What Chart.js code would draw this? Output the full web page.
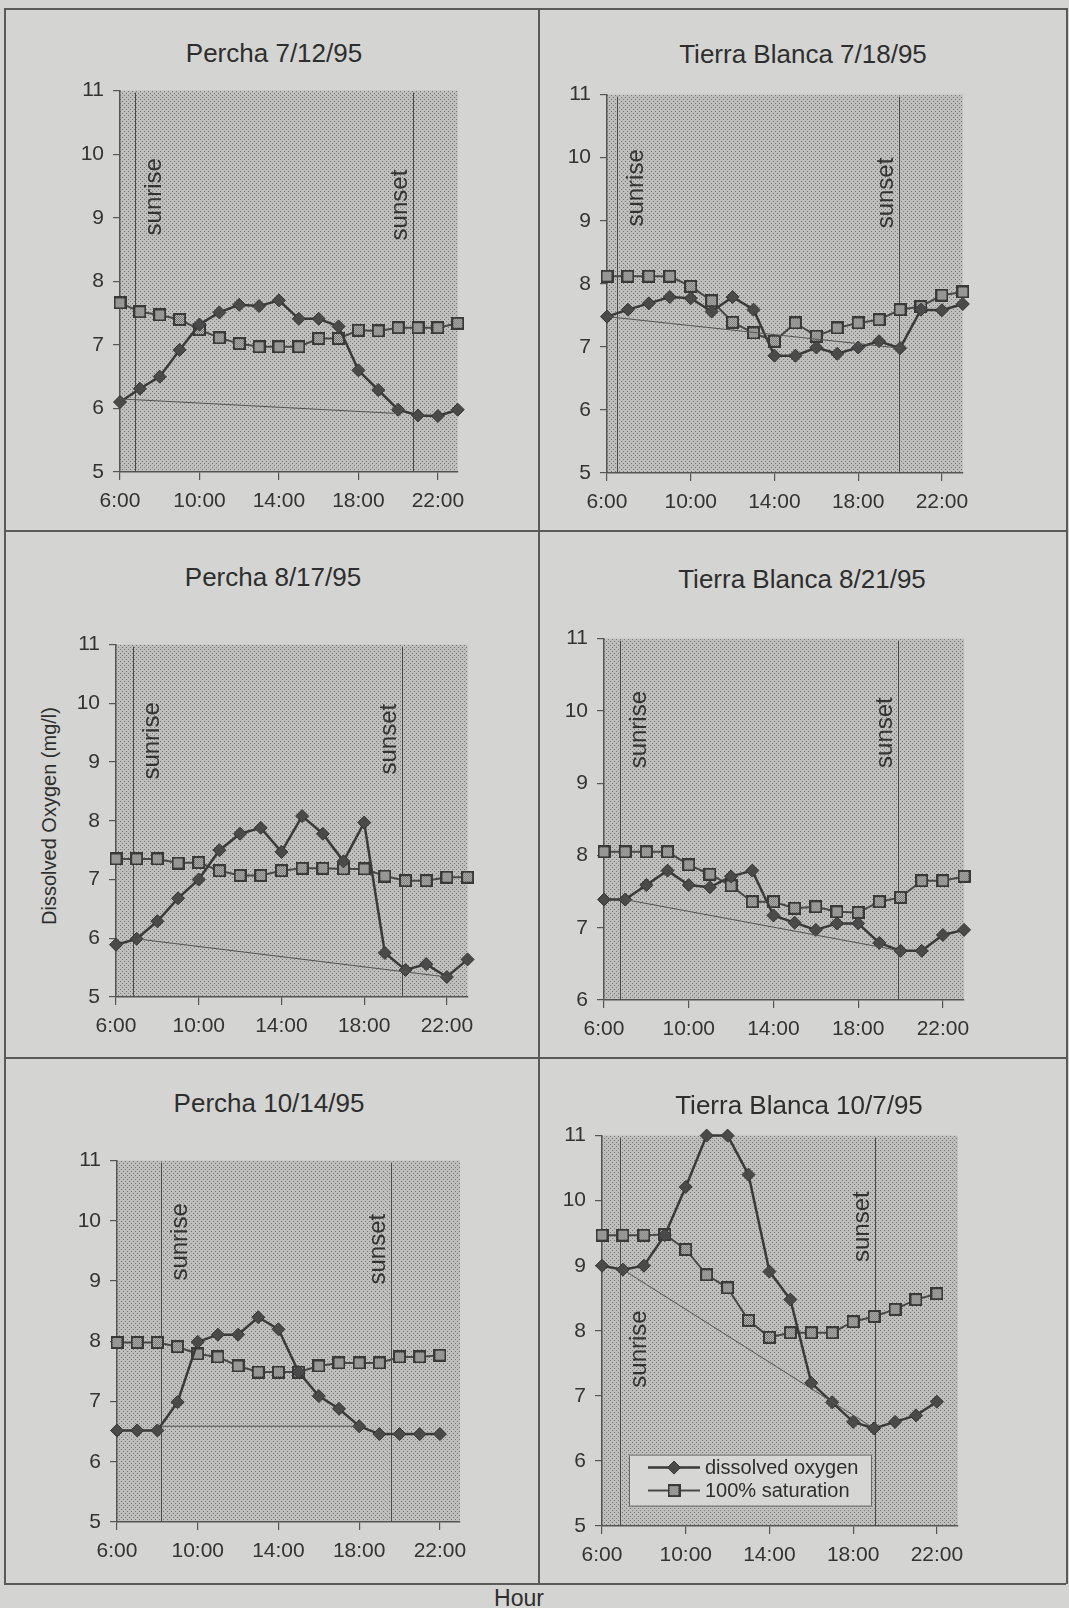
<!DOCTYPE html>
<html>
<head>
<meta charset="utf-8">
<script src="https://cdn.jsdelivr.net/npm/chart.js@4.4.0/dist/chart.umd.min.js"></script>
<style>
  html, body { margin: 0; padding: 0; background: #d4d4d2; }
  #page { position: relative; width: 1069px; height: 1608px; overflow: hidden;
          font-family: 'Liberation Sans', Arial, sans-serif; color: #2e2e2e; }
  #page canvas { position: absolute; }
  .rule { position: absolute; background: #5a5a5a; }
  .lbl { position: absolute; white-space: nowrap; line-height: 1; transform: translate(-50%, -50%); }
  .ttl { font-size: 26px; }
</style>
</head>
<body>
<div id="page">
  <div class="rule" style="left:4px;top:8px;width:1062px;height:1.5px"></div>
  <div class="rule" style="left:4px;top:530px;width:1062px;height:1.5px"></div>
  <div class="rule" style="left:4px;top:1057px;width:1062px;height:1.5px"></div>
  <div class="rule" style="left:4px;top:1583px;width:1062px;height:1.5px"></div>
  <div class="rule" style="left:4px;top:8px;width:1.5px;height:1576px"></div>
  <div class="rule" style="left:538px;top:8px;width:1.5px;height:1576px"></div>
  <div class="rule" style="left:1066px;top:8px;width:1.5px;height:1576px"></div>

  <div class="lbl" style="left:49px;top:816px;font-size:20px;transform:translate(-50%,-50%) rotate(-90deg)">Dissolved Oxygen (mg/l)</div>
  <div class="lbl" style="left:519px;top:1598px;font-size:23px">Hour</div>
</div>
<script>
Chart.defaults.font.family = "'Liberation Sans', Arial, sans-serif";
Chart.defaults.color = '#333';
Chart.defaults.animation = false;

// hours of the day sampled, and the tick hours shown
const hours = [6, 7, 8, 9, 10, 11, 12, 13, 14, 15, 16, 17, 18, 19, 20, 21, 22, 23];
const hourTicks = [6, 10, 14, 18, 22];

const titles = ['Percha 7/12/95', 'Tierra Blanca 7/18/95', 'Percha 8/17/95',
                'Tierra Blanca 8/21/95', 'Percha 10/14/95', 'Tierra Blanca 10/7/95'];
const yMin = [5, 5, 5, 6, 5, 5];
const yMax = 11;

// dissolved oxygen (mg/l) and 100% saturation, one value per hour
const percha0712DO  = [6.10, 6.31, 6.50, 6.92, 7.32, 7.51, 7.63, 7.61, 7.70, 7.41, 7.41, 7.29, 6.60, 6.29, 5.98, 5.89, 5.88, 5.98];
const percha0712Sat = [7.66, 7.52, 7.47, 7.40, 7.24, 7.11, 7.02, 6.97, 6.97, 6.97, 7.10, 7.10, 7.23, 7.22, 7.27, 7.27, 7.27, 7.34];
const tierra0718DO  = [7.48, 7.59, 7.69, 7.79, 7.77, 7.56, 7.79, 7.59, 6.86, 6.86, 6.99, 6.89, 6.99, 7.09, 6.98, 7.59, 7.58, 7.68];
const tierra0718Sat = [8.12, 8.12, 8.12, 8.12, 7.96, 7.73, 7.39, 7.22, 7.09, 7.38, 7.17, 7.30, 7.38, 7.43, 7.59, 7.64, 7.82, 7.87];
const percha0817DO  = [5.89, 5.99, 6.29, 6.68, 7.00, 7.50, 7.78, 7.88, 7.47, 8.08, 7.78, 7.31, 7.97, 5.75, 5.46, 5.56, 5.34, 5.64];
const percha0817Sat = [7.35, 7.35, 7.35, 7.28, 7.29, 7.15, 7.07, 7.07, 7.15, 7.19, 7.19, 7.18, 7.18, 7.06, 6.98, 6.98, 7.04, 7.04];
const tierra0821DO  = [7.39, 7.39, 7.59, 7.79, 7.59, 7.56, 7.71, 7.79, 7.17, 7.07, 6.97, 7.06, 7.06, 6.79, 6.68, 6.68, 6.90, 6.97];
const tierra0821Sat = [8.05, 8.05, 8.05, 8.05, 7.87, 7.74, 7.58, 7.36, 7.36, 7.27, 7.29, 7.22, 7.21, 7.36, 7.42, 7.65, 7.65, 7.71];
const percha1014DO  = [6.52, 6.52, 6.52, 6.99, 7.99, 8.11, 8.11, 8.40, 8.20, 7.49, 7.09, 6.88, 6.59, 6.46, 6.46, 6.46, 6.46];
const percha1014Sat = [7.98, 7.98, 7.98, 7.91, 7.79, 7.74, 7.59, 7.49, 7.49, 7.49, 7.59, 7.64, 7.64, 7.64, 7.74, 7.74, 7.77];
const tierra1007DO  = [9.00, 8.94, 9.00, 9.47, 10.21, 11.00, 11.00, 10.40, 8.91, 8.48, 7.20, 6.90, 6.60, 6.50, 6.60, 6.70, 6.91];
const tierra1007Sat = [9.47, 9.47, 9.47, 9.48, 9.25, 8.86, 8.66, 8.16, 7.90, 7.97, 7.97, 7.97, 8.14, 8.22, 8.33, 8.48, 8.57];

const oxygen = [percha0712DO, tierra0718DO, percha0817DO, tierra0821DO, percha1014DO, tierra1007DO];
const saturation = [percha0712Sat, tierra0718Sat, percha0817Sat, tierra0821Sat, percha1014Sat, tierra1007Sat];

// sunrise / sunset (hour) and the thin night-respiration line [hour, mg/l]
const sunrise = [6.75, 6.48, 6.8, 6.75, 8.2, 6.84];
const sunset = [20.75, 19.93, 19.85, 19.88, 19.6, 19.06];
const trendFrom = [[6, 6.15], [6, 7.48], [7, 5.99], [7, 7.39], [8.2, 6.59], [7, 8.94]];
const trendTo = [[20, 5.92], [20, 6.98], [22, 5.34], [20, 6.68], [18, 6.59], [19, 6.50]];

// layout: plot areas on the page, label heights, title centres
const areas = [
  { l: 120, t: 83, r: 460, b: 472 }, { l: 607, t: 87, r: 964, b: 473 },
  { l: 116, t: 637, r: 469, b: 997 }, { l: 604, t: 631, r: 965, b: 1000 },
  { l: 117, t: 1153, r: 462, b: 1522 }, { l: 602, t: 1128, r: 959, b: 1526 }
];
const riseLabelY = [9.33, 9.52, 9.36, 9.74, 9.65, 7.72];
const setLabelY = [9.2, 9.44, 9.39, 9.7, 9.53, 9.6];
const titlePos = [[274, 53], [803, 54], [273, 577], [802, 579], [269, 1103], [799, 1105]];

const YW = 70, XH = 50, PAD = 14;
const page = document.getElementById('page');

const tile = document.createElement('canvas');
tile.width = 4; tile.height = 4;
(function () {
  const g = tile.getContext('2d');
  g.fillStyle = '#bebebc'; g.fillRect(0, 0, 4, 4);
  g.fillStyle = '#787876'; g.fillRect(0, 0, 1, 1); g.fillRect(2, 2, 1, 1);
})();

const squareMark = document.createElement('canvas');
squareMark.width = 13; squareMark.height = 13;
(function () {
  const g = squareMark.getContext('2d');
  g.fillStyle = '#3a3a3a'; g.fillRect(0, 0, 13, 13);
  g.fillStyle = '#c4c4c2'; g.fillRect(2, 2, 9, 9);
  g.fillStyle = '#6a6a68';
  for (let y = 2; y < 11; y++) for (let x = 2; x < 11; x++) if ((x + y) % 2 === 0) g.fillRect(x, y, 1, 1);
})();

const backdrop = {
  id: 'backdrop',
  beforeDraw(chart) {
    const { ctx, chartArea: c } = chart;
    ctx.save();
    ctx.fillStyle = ctx.createPattern(tile, 'repeat');
    ctx.fillRect(c.left, c.top, c.width, c.height);
    ctx.restore();
  }
};

function vText(ctx, text, bx, cy) {
  ctx.save();
  ctx.translate(bx, cy);
  ctx.rotate(-Math.PI / 2);
  ctx.fillText(text, 0, 0);
  ctx.restore();
}

const sunMarks = {
  id: 'sunMarks',
  beforeDatasetsDraw(chart, args, opts) {
    const { ctx, chartArea: c, scales: { x, y } } = chart;
    ctx.save();
    ctx.strokeStyle = '#4a4a4a';
    ctx.lineWidth = 1;
    const rx = Math.round(x.getPixelForValue(opts.rise)) + 0.5;
    const sx = Math.round(x.getPixelForValue(opts.set)) + 0.5;
    [rx, sx].forEach(px => {
      ctx.beginPath(); ctx.moveTo(px, c.top + 2); ctx.lineTo(px, c.bottom); ctx.stroke();
    });
    ctx.fillStyle = '#333';
    ctx.font = "24px 'Liberation Sans', Arial, sans-serif";
    ctx.textAlign = 'center';
    ctx.textBaseline = 'alphabetic';
    vText(ctx, 'sunrise', rx + 25, y.getPixelForValue(opts.riseY));
    vText(ctx, 'sunset', sx - 7, y.getPixelForValue(opts.setY));
    ctx.restore();
  }
};

const keyBox = {
  id: 'keyBox',
  afterDatasetsDraw(chart, args, opts) {
    if (!opts.show) return;
    const { ctx, chartArea: c } = chart;
    const bx = c.left + 27, by = c.top + 319, bw = 242, bh = 51;
    ctx.save();
    ctx.fillStyle = '#d6d6d4';
    ctx.fillRect(bx, by, bw, bh);
    ctx.strokeStyle = '#6a6a6a';
    ctx.lineWidth = 1;
    ctx.strokeRect(bx + 0.5, by + 0.5, bw, bh);
    const sets = chart.data.datasets.filter(d => d.label !== 'trend');
    sets.forEach((d, k) => {
      const ly = by + 13 + k * 23;
      ctx.strokeStyle = d.borderColor;
      ctx.lineWidth = d.borderWidth;
      ctx.beginPath(); ctx.moveTo(bx + 19, ly); ctx.lineTo(bx + 71, ly); ctx.stroke();
      const mx = bx + 45;
      if (d.pointStyle === 'rectRot') {
        ctx.fillStyle = d.pointBackgroundColor;
        ctx.strokeStyle = d.pointBorderColor;
        ctx.lineWidth = 1;
        ctx.beginPath();
        ctx.moveTo(mx - 6.5, ly); ctx.lineTo(mx, ly - 6.5); ctx.lineTo(mx + 6.5, ly); ctx.lineTo(mx, ly + 6.5);
        ctx.closePath(); ctx.fill(); ctx.stroke();
      } else {
        ctx.drawImage(d.pointStyle, mx - 6.5, ly - 6.5);
      }
      ctx.fillStyle = '#2e2e2e';
      ctx.font = "20px 'Liberation Sans', Arial, sans-serif";
      ctx.textAlign = 'left';
      ctx.textBaseline = 'middle';
      ctx.fillText(d.label, bx + 76, ly + 1);
    });
    ctx.restore();
  }
};

function makePanel(i) {
  const a = areas[i];
  const cv = document.createElement('canvas');
  cv.width = a.r - a.l + YW + PAD;
  cv.height = a.b - a.t + PAD + XH;
  cv.style.left = (a.l - YW) + 'px';
  cv.style.top = (a.t - PAD) + 'px';
  page.appendChild(cv);

  const t = document.createElement('div');
  t.className = 'lbl ttl';
  t.style.left = titlePos[i][0] + 'px';
  t.style.top = titlePos[i][1] + 'px';
  t.textContent = titles[i];
  page.appendChild(t);

  const pts = vals => vals.map((v, k) => ({ x: hours[k], y: v }));

  new Chart(cv, {
    type: 'line',
    data: {
      datasets: [
        { label: 'trend', data: [{ x: trendFrom[i][0], y: trendFrom[i][1] }, { x: trendTo[i][0], y: trendTo[i][1] }],
          borderColor: '#555', borderWidth: 1, pointRadius: 0, clip: false },
        { label: 'dissolved oxygen', data: pts(oxygen[i]), borderColor: '#3a3a3a', borderWidth: 2.5,
          pointStyle: 'rectRot', pointRadius: 6.5, pointBackgroundColor: '#4a4a4a',
          pointBorderColor: '#363636', pointBorderWidth: 1, clip: false },
        { label: '100% saturation', data: pts(saturation[i]), borderColor: '#484848', borderWidth: 2,
          pointStyle: squareMark, pointRadius: 6.5, clip: false }
      ]
    },
    options: {
      responsive: false,
      events: [],
      layout: { padding: { top: PAD, right: PAD, left: 0, bottom: 0 } },
      plugins: {
        legend: { display: false }, tooltip: { enabled: false },
        sunMarks: { rise: sunrise[i], set: sunset[i], riseY: riseLabelY[i], setY: setLabelY[i] },
        keyBox: { show: i === 5 }
      },
      scales: {
        x: {
          type: 'linear', min: 6, max: 23,
          afterBuildTicks: s => { s.ticks = hourTicks.map(v => ({ value: v })); },
          afterFit: s => { s.height = XH; },
          ticks: { callback: v => v + ':00', font: { size: 21 }, color: '#333', padding: 9, maxRotation: 0, autoSkip: false },
          grid: { drawOnChartArea: false, tickLength: 8, color: '#555', lineWidth: 1.2 },
          border: { color: '#555', width: 1.5 }
        },
        y: {
          min: yMin[i], max: yMax,
          afterFit: s => { s.width = YW; },
          ticks: { stepSize: 1, font: { size: 21 }, color: '#333', padding: 9 },
          grid: { drawOnChartArea: false, tickLength: 7, color: '#555', lineWidth: 1.2 },
          border: { color: '#555', width: 1.5 }
        }
      }
    },
    plugins: [backdrop, sunMarks, keyBox]
  });
}

for (let i = 0; i < 6; i++) makePanel(i);
</script>
</body>
</html>
